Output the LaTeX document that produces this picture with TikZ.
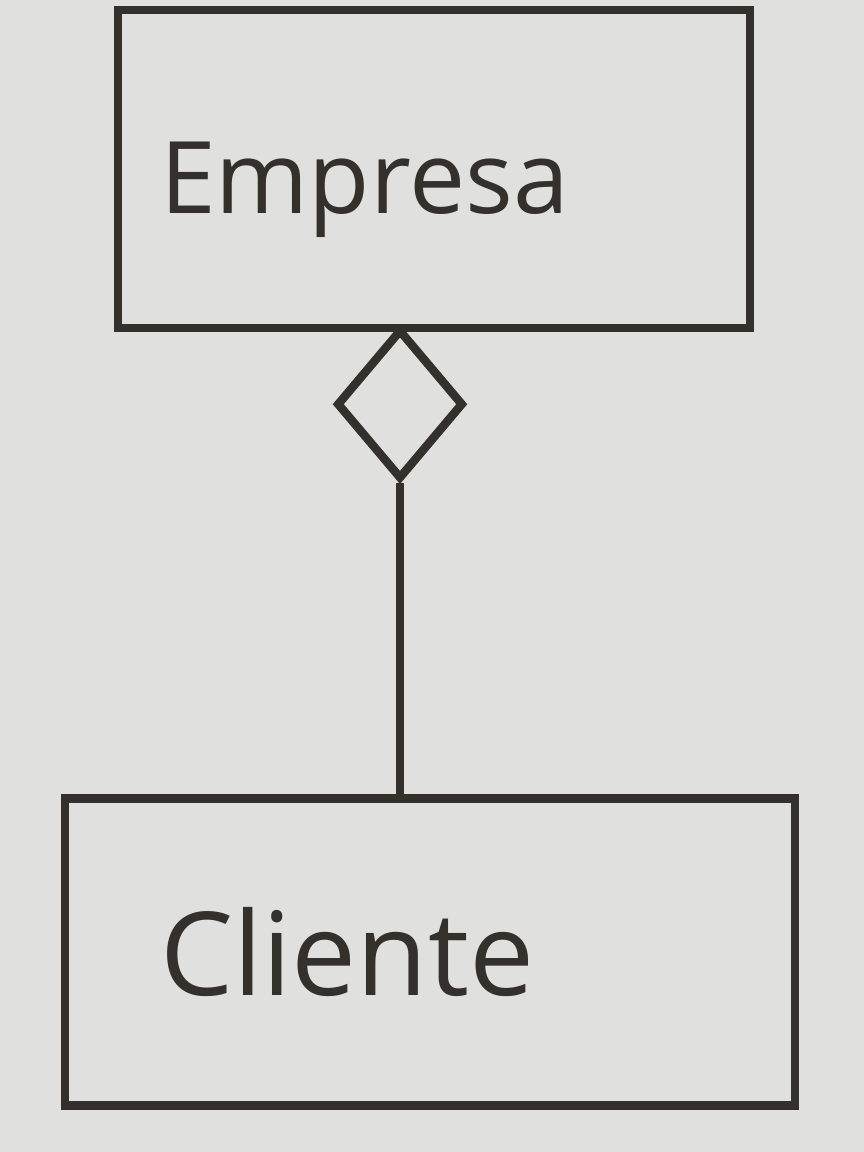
\documentclass[tikz,border=0pt]{standalone}
\usepackage{fontspec}
\setmainfont{Open Sans}
\usetikzlibrary{shapes.geometric, positioning}

\definecolor{paper}{RGB}{224,225,222}
\definecolor{ink}{RGB}{52,48,44}

\tikzset{
    classbox/.style={rectangle, draw=ink, line width=2.4pt, text=ink, align=left,
        font=\fontsize{33}{40}\selectfont},
    aggdiamond/.style={diamond, draw=ink, line width=2.4pt, inner sep=0pt,
        minimum width=1.27cm, minimum height=1.5cm}
}

\begin{document}
\begin{tikzpicture}
        \useasboundingbox (0, 0) rectangle (8.64, 11.52);
        \fill[paper] (0, 0) rectangle (8.64, 11.52);

        \node[classbox, minimum width=6.32cm, minimum height=3.18cm,
            inner xsep=0.42cm, text width=5.48cm, font=\fontsize{28.5}{34}\selectfont,
            text height=1.15cm, text depth=0.25cm] (empresa) at (4.34, 9.83) {Empresa};
        \node[classbox, minimum width=7.3cm, minimum height=3.07cm,
            inner xsep=0.95cm, text width=5.4cm] (cliente) at (4.30, 2.0) {Cliente};

        \node[aggdiamond, anchor=north] (agg) at (4.0, 8.27) {};

        \draw[ink, line width=2.4pt] (agg.south) to (agg.south |- cliente.north);
    \end{tikzpicture}
\end{document}
